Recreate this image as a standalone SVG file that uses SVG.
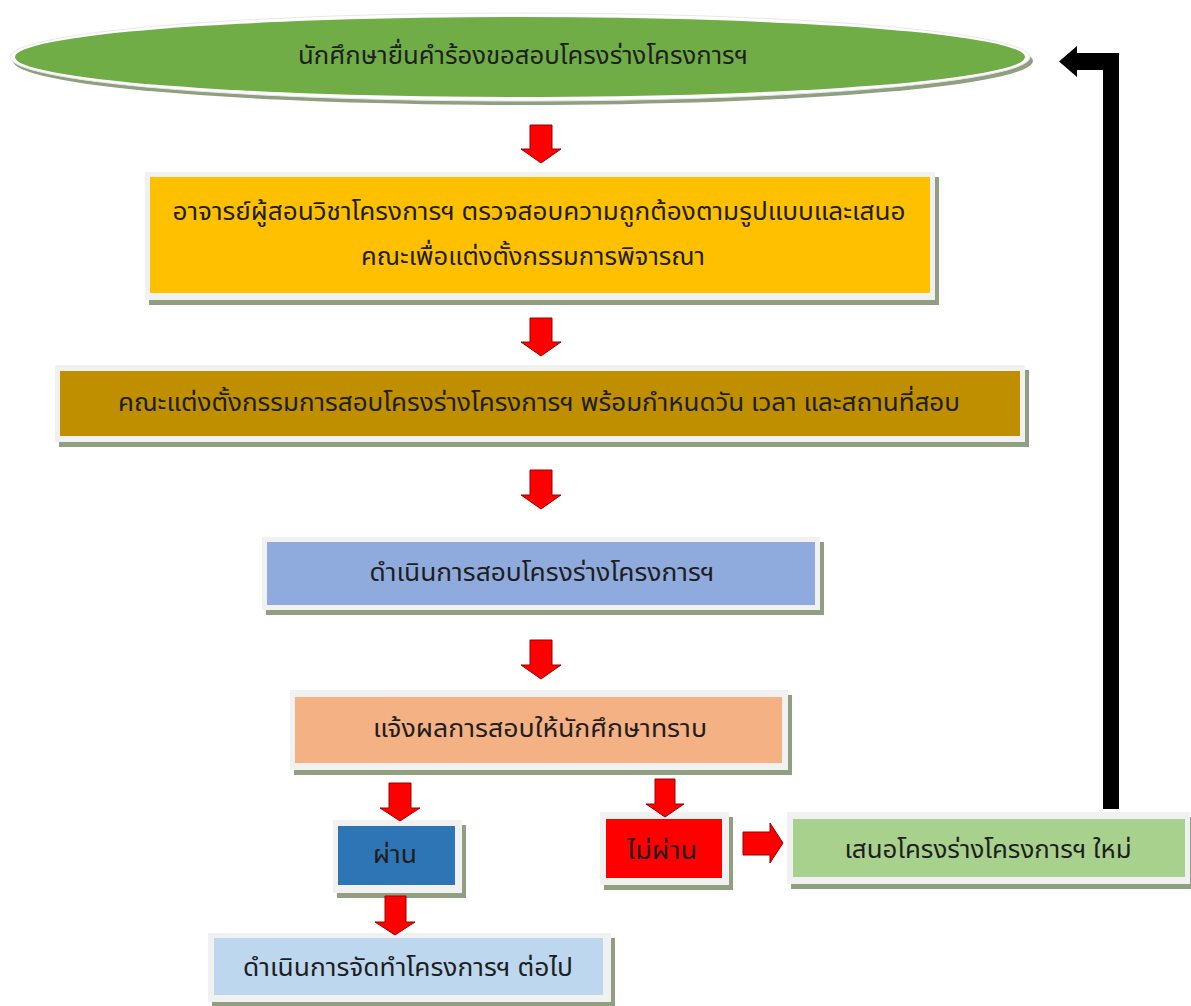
<svg xmlns="http://www.w3.org/2000/svg" width="1191" height="1006" viewBox="0 0 1191 1006">
<defs>
<style>
.sh{fill:#8f9f80}
.fr{fill:#f1f1f1}
.t{font-family:"Noto Sans Thai","Noto Sans","DejaVu Sans",sans-serif;font-size:25px;fill:#1e1e1e;text-anchor:middle;dominant-baseline:central}
.ra{fill:#ff0000;stroke:#9a0000;stroke-width:1}
.ba{fill:#000000}
</style>
</defs>
<rect width="1191" height="1006" fill="#ffffff"/>

<g id="n-start">
<ellipse cx="523" cy="61" rx="510" ry="44" class="sh"/>
<ellipse cx="520" cy="57" rx="510" ry="44" fill="#ffffff" stroke="#e8e8e8" stroke-width="1"/>
<ellipse cx="520" cy="57" rx="505" ry="40" fill="#70ad47"/>
<text class="t" x="523" y="56" textLength="450" lengthAdjust="spacingAndGlyphs">นักศึกษายื่นคำร้องขอสอบโครงร่างโครงการฯ</text>
</g>

<g id="n-check">
<rect x="149" y="177" width="790" height="128" class="sh"/>
<rect x="145" y="172" width="790" height="128" class="fr"/>
<rect x="150" y="177" width="780" height="116" fill="#ffc000"/>
<text class="t" x="539" y="212" textLength="733" lengthAdjust="spacingAndGlyphs">อาจารย์ผู้สอนวิชาโครงการฯ ตรวจสอบความถูกต้องตามรูปแบบและเสนอ</text>
<text class="t" x="533" y="257" textLength="344" lengthAdjust="spacingAndGlyphs">คณะเพื่อแต่งตั้งกรรมการพิจารณา</text>
</g>

<g id="n-committee">
<rect x="59" y="370" width="970" height="77" class="sh"/>
<rect x="55" y="365" width="970" height="77" class="fr"/>
<rect x="60" y="371" width="960" height="65" fill="#bf8f00"/>
<text class="t" x="539" y="403" textLength="842" lengthAdjust="spacingAndGlyphs">คณะแต่งตั้งกรรมการสอบโครงร่างโครงการฯ พร้อมกำหนดวัน เวลา และสถานที่สอบ</text>
</g>

<g id="n-exam">
<rect x="266" y="542" width="558" height="73" class="sh"/>
<rect x="262" y="537" width="558" height="73" class="fr"/>
<rect x="267" y="542" width="548" height="63" fill="#8faadc"/>
<text class="t" x="542" y="573" textLength="345" lengthAdjust="spacingAndGlyphs">ดำเนินการสอบโครงร่างโครงการฯ</text>
</g>

<g id="n-notify">
<rect x="294" y="695" width="498" height="80" class="sh"/>
<rect x="290" y="690" width="498" height="80" class="fr"/>
<rect x="295" y="697" width="487" height="66" fill="#f4b183"/>
<text class="t" x="540" y="729" textLength="334" lengthAdjust="spacingAndGlyphs">แจ้งผลการสอบให้นักศึกษาทราบ</text>
</g>

<g id="n-pass">
<rect x="337" y="825" width="129" height="73" class="sh"/>
<rect x="333" y="820" width="129" height="73" class="fr"/>
<rect x="338" y="826" width="117" height="59" fill="#2e75b6"/>
<text class="t" x="395" y="855" textLength="44" lengthAdjust="spacingAndGlyphs">ผ่าน</text>
</g>

<g id="n-fail">
<rect x="604" y="817" width="129" height="73" class="sh"/>
<rect x="600" y="812" width="129" height="73" class="fr"/>
<rect x="606" y="819" width="116" height="59" fill="#ff0000"/>
<text class="t" x="662" y="851" textLength="70" lengthAdjust="spacingAndGlyphs">ไม่ผ่าน</text>
</g>

<g id="n-resubmit">
<rect x="791" y="817" width="400" height="72" class="sh"/>
<rect x="787" y="812" width="403" height="72" class="fr"/>
<rect x="793" y="819" width="392" height="58" fill="#a9d18e"/>
<text class="t" x="988" y="850" textLength="287" lengthAdjust="spacingAndGlyphs">เสนอโครงร่างโครงการฯ ใหม่</text>
</g>

<g id="n-continue">
<rect x="212" y="938" width="403" height="68" class="sh"/>
<rect x="208" y="933" width="403" height="69" class="fr"/>
<rect x="214" y="938" width="389" height="57" fill="#bdd7ee"/>
<text class="t" x="408" y="968" textLength="330" lengthAdjust="spacingAndGlyphs">ดำเนินการจัดทำโครงการฯ ต่อไป</text>
</g>

<g id="connectors">
<path class="ra" d="M530,125 H552 V149 H561 L541,163 L521,149 H530 Z"/>
<path class="ra" d="M530,318 H552 V342 H561 L541,356 L521,342 H530 Z"/>
<path class="ra" d="M530,470 H552 V495 H561 L541,509 L521,495 H530 Z"/>
<path class="ra" d="M530,640 H552 V665 H561 L541,679 L521,665 H530 Z"/>
<path class="ra" d="M389,783 H411 V808 H420 L400,821 L380,808 H389 Z"/>
<path class="ra" d="M655,779 H675 V804 H684 L665,817 L646,804 H655 Z"/>
<path class="ra" d="M743,832 H770 V823 L783,843 L770,863 V855 H743 Z"/>
<path class="ra" d="M385,896 H406 V922 H415 L395,935 L375,922 H385 Z"/>
<path class="ba" d="M1119,53 V809 H1103 V70 H1077 V77 L1059,61.5 L1077,46 V53 Z"/>
</g>
</svg>
